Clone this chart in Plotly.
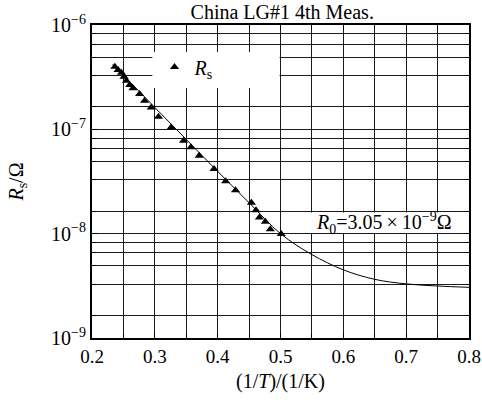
import plotly.graph_objects as go

# Measured data points (1/T, Rs)
inv_T = [0.2363, 0.2415, 0.2469, 0.2510, 0.2548, 0.2600, 0.2652, 0.2758, 0.2837,
         0.2943, 0.3058, 0.3258, 0.3457, 0.3574, 0.3705, 0.3942, 0.4127, 0.4285,
         0.4537, 0.4610, 0.4664, 0.4759, 0.4838, 0.5011]
Rs = [3.98e-7, 3.70e-7, 3.49e-7, 3.19e-7, 2.92e-7, 2.66e-7, 2.47e-7, 2.18e-7, 1.88e-7,
      1.62e-7, 1.32e-7, 1.04e-7, 7.78e-8, 6.72e-8, 5.58e-8, 4.16e-8, 3.18e-8, 2.60e-8,
      1.98e-8, 1.68e-8, 1.43e-8, 1.30e-8, 1.10e-8, 9.9e-9]

# Fitted curve
curve_x = [0.233, 0.25, 0.30, 0.35, 0.40, 0.45, 0.50, 0.55, 0.60, 0.65, 0.70, 0.75, 0.80]
curve_y = [4.2e-7, 3.3e-7, 1.62e-7, 8.0e-8, 3.95e-8, 1.98e-8, 1.0e-8, 6.3e-9, 4.5e-9,
           3.65e-9, 3.3e-9, 3.15e-9, 3.06e-9]

# Axis ticks
y_tick_vals = [1e-9, 1e-8, 1e-7, 1e-6]
y_tick_text = ["10<sup>\u22129</sup>", "10<sup>\u22128</sup>", "10<sup>\u22127</sup>", "10<sup>\u22126</sup>"]
y_grid_mult = [1.64, 3.28, 4.93, 6.57, 8.21]
decades = [1e-9, 1e-8, 1e-7]
x_tick_vals = [0.2, 0.3, 0.4, 0.5, 0.6, 0.7, 0.8]
x_tick_text = ["0.2", "0.3", "0.4", "0.5", "0.6", "0.7", "0.8"]

y_minor = [m * d for d in decades for m in y_grid_mult]

FONT = "Liberation Serif"
GRID = "#1a1a1a"

fig = go.Figure()
fig.add_trace(go.Scatter(x=curve_x, y=curve_y, mode="lines", line=dict(color="black", width=1, shape="spline"),
                         showlegend=False, hoverinfo="skip"))
fig.add_trace(go.Scatter(x=inv_T, y=Rs, mode="markers", name="<i>R</i><sub>s</sub>",
                         marker=dict(symbol="triangle-up", size=8, color="black")))

fig.update_layout(
    width=482, height=404,
    margin=dict(l=92, r=13, t=25, b=66),
    paper_bgcolor="white", plot_bgcolor="white",
    font=dict(family=FONT, size=20, color="black"),
    title=dict(text="China LG#1 4th Meas.", x=0.5856, xanchor="center", y=0.97, yanchor="middle",
               font=dict(family=FONT, size=20, color="black")),
    legend=dict(x=0.1658, xanchor="left", y=0.866, yanchor="middle", bgcolor="rgba(0,0,0,0)",
                font=dict(family=FONT, size=20)),
    xaxis=dict(range=[0.2, 0.8], tickvals=x_tick_vals, ticktext=x_tick_text,
               tickfont=dict(family=FONT, size=19),
               showgrid=True, gridcolor=GRID, gridwidth=1,
               minor=dict(dtick=0.05, tick0=0.2, showgrid=True, gridcolor=GRID, gridwidth=1,
                          ticks="inside", ticklen=4, tickcolor="black"),
               ticks="inside", ticklen=5, tickcolor="black", ticklabeloverflow="allow",
               showline=True, linecolor="black", linewidth=2, mirror="ticks", zeroline=False,
               automargin=False,
               title=dict(text="(1/<i>T</i>)/(1/K)", font=dict(family=FONT, size=20), standoff=8)),
    yaxis=dict(type="log", range=[-9, -6], tickvals=y_tick_vals, ticktext=y_tick_text,
               showgrid=True, gridcolor=GRID, gridwidth=1,
               minor=dict(tickmode="array", tickvals=y_minor, showgrid=True, gridcolor=GRID, gridwidth=1,
                          ticks="inside", ticklen=4, tickcolor="black"),
               ticks="inside", ticklen=5, tickcolor="black", ticklabeloverflow="allow",
               showline=True, linecolor="black", linewidth=2, mirror="ticks", zeroline=False,
               automargin=False,
               title=dict(text="<i>R</i><sub>s</sub>/\u03a9", font=dict(family=FONT, size=20), standoff=22)),
    shapes=[
        dict(type="rect", xref="x", yref="paper", x0=0.296, x1=0.4985, y0=0.7987, y1=0.9137,
             fillcolor="white", line=dict(width=0), layer="above"),
        dict(type="rect", xref="x", yref="paper", x0=0.523, x1=0.798, y0=0.3355, y1=0.401,
             fillcolor="white", line=dict(width=0), layer="above"),
    ],
    annotations=[
        dict(text="<i>R</i><sub>0</sub>=3.05\u2009\u00d7\u200910<sup>\u22129</sup>\u03a9", xref="x", yref="paper",
             x=0.665, y=0.366, showarrow=False, xanchor="center", yanchor="middle",
             font=dict(family=FONT, size=20, color="black")),
    ],
)

fig.write_html("out.html")
